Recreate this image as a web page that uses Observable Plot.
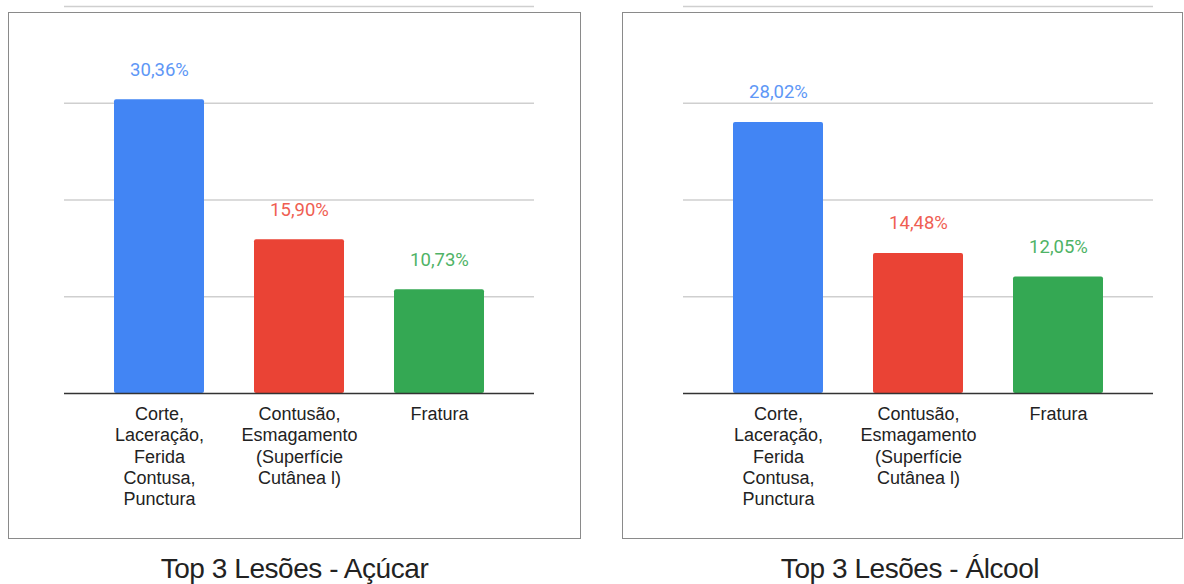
<!DOCTYPE html>
<html>
<head>
<meta charset="utf-8">
<script src="https://cdn.jsdelivr.net/npm/d3@7"></script>
<script src="https://cdn.jsdelivr.net/npm/@observablehq/plot@0.6"></script>
<style>
  html, body { margin: 0; padding: 0; background: #fff; overflow: hidden; }
  #root { position: relative; width: 1184px; height: 584px; overflow: hidden; }
  .box { position: absolute; border: 1.5px solid #8a8a8a; box-sizing: border-box; }
  .chart { position: absolute; top: 0; }
  .title { position: absolute; font-family: "Liberation Sans", Arial, sans-serif; font-size: 28px; line-height: 28px; letter-spacing: -0.45px; color: #222; text-align: center; white-space: nowrap; }
</style>
</head>
<body>
<div id="root">
  <div class="box" style="left:8px; top:12px; width:573px; height:527px;"></div>
  <div class="box" style="left:622px; top:12px; width:561px; height:527px;"></div>
  <div class="chart" id="c1" style="left:0px;"></div>
  <div class="chart" id="c2" style="left:622px;"></div>
  <div class="title" style="left:8px; width:573px; top:555px;">Top 3 Lesões - Açúcar</div>
  <div class="title" style="left:622px; width:576px; top:555px;">Top 3 Lesões - Álcool</div>
</div>
<script>
const categories = [
  "Corte,\nLaceração,\nFerida\nContusa,\nPunctura",
  "Contusão,\nEsmagamento\n(Superfície\nCutânea l)",
  "Fratura"
];
const acucarValues = [30.36, 15.90, 10.73];
const alcoolValues = [28.02, 14.48, 12.05];
const barColors = ["#4285f4", "#ea4335", "#34a853"];
const labelColors = ["#5e97f6", "#ef5e52", "#4fb366"];
const gridTicks = [0, 10, 20, 30, 40];

function fmt(v) { return v.toFixed(2).replace(".", ",") + "%"; }

function makeChart(values, width, marginLeft, marginRight) {
  const data = categories.map((c, i) => ({cat: c, value: values[i], i}));
  return Plot.plot({
    width,
    height: 540,
    marginLeft,
    marginRight,
    marginTop: 6,
    marginBottom: 147,
    style: {background: "transparent", overflow: "visible"},
    x: {domain: categories, padding: 0.357, label: null},
    y: {domain: [0, 40], label: null, axis: null},
    marks: [
      Plot.ruleY(gridTicks.filter(d => d > 0), {stroke: "#cfcfcf", strokeWidth: 1.3}),
      Plot.barY(data, {x: "cat", y: "value", fill: d => barColors[d.i], rx: 2}),
      Plot.ruleY([0], {stroke: "#333", strokeWidth: 1.3}),
      Plot.text(data, {
        x: "cat", y: "value", text: d => fmt(d.value),
        fill: d => labelColors[d.i], dy: -30,
        fontSize: 18.5, fontFamily: "Roboto, sans-serif"
      }),
      Plot.axisX({
        tickSize: 0, tickPadding: 11, fontSize: 18,
        fontFamily: "'Liberation Sans', Arial, sans-serif",
        fill: "#222", lineHeight: 1.19, lineAnchor: "top", label: null,
        style: {letterSpacing: "0.5px"}
      })
    ]
  });
}

document.getElementById("c1").appendChild(makeChart(acucarValues, 580, 64, 46));
document.getElementById("c2").appendChild(makeChart(alcoolValues, 562, 61, 31));
</script>
</body>
</html>
